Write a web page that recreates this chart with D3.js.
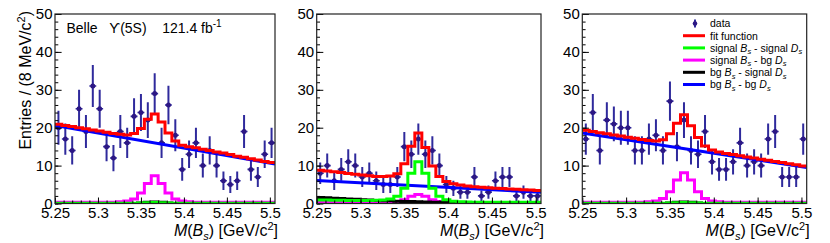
<!DOCTYPE html>
<html>
<head>
<meta charset="utf-8">
<script src="https://cdn.jsdelivr.net/npm/d3@7"></script>
<style>
  body { margin: 0; background: #fff; }
  text { font-family: "Liberation Sans", Arial, Helvetica, sans-serif; fill: #000; }
</style>
</head>
<body>
<div id="chart"></div>
<script>
// 32 bins of 8 MeV
var binEdges = [5.250, 5.258, 5.266, 5.274, 5.282, 5.290, 5.298, 5.306, 5.314, 5.322,
  5.330, 5.338, 5.346, 5.354, 5.362, 5.370, 5.378, 5.386, 5.394, 5.402,
  5.410, 5.418, 5.426, 5.434, 5.442, 5.450, 5.458, 5.466, 5.474, 5.482,
  5.490, 5.498, 5.506];
var xTicks = [5.25, 5.3, 5.35, 5.4, 5.45, 5.5];
var yTicks = [0, 10, 20, 30, 40, 50];

// panel 1
var data1 = [20, 17, 14, 25, 19, 31, 25, 15, 12, 19, 16, 23, 24, 22, 29, 16,
  26, 18, 9, 13, 16, 10, 14, 10, 6, 5, 6, 19, 9, 7, 13, 16];
var fit1 = [20.9, 20.6, 20.3, 20.0, 19.7, 19.4, 19.1, 18.8, 18.5, 18.3, 18.1, 18.5, 19.8, 22.2, 23.6, 21.5,
  18.6, 16.5, 15.4, 15.0, 14.7, 14.3, 14.0, 13.6, 13.3, 12.9, 12.5, 12.2, 11.8, 11.5, 11.1, 10.8];
var sigSig1 = [0.05, 0.05, 0.05, 0.05, 0.05, 0.05, 0.05, 0.05, 0.05, 0.05, 0.05, 0.08, 0.15, 0.2, 0.25, 0.2,
  0.15, 0.08, 0.05, 0.05, 0.05, 0.05, 0.05, 0.05, 0.05, 0.05, 0.05, 0.05, 0.05, 0.05, 0.05, 0.05];
var sigBg1 = [0.3, 0.3, 0.3, 0.3, 0.3, 0.3, 0.3, 0.3, 0.35, 0.45, 0.65, 1.2, 2.8, 5.3, 7.3, 5.3,
  2.8, 1.2, 0.65, 0.45, 0.35, 0.3, 0.3, 0.3, 0.3, 0.3, 0.3, 0.3, 0.3, 0.3, 0.3, 0.3];
var bgSig1 = [0, 0, 0, 0, 0, 0, 0, 0, 0, 0, 0, 0, 0.1, 0.3, 0.4, 0.3,
  0.1, 0, 0, 0, 0, 0, 0, 0, 0, 0, 0, 0, 0, 0, 0, 0];
var bgBg1 = [[5.25, 20.6], [5.506, 10.4]];

// panel 2
var data2 = [8, 10, 6, 9, 11, 10, 7, 8, 6, 5, 5, 7, 15, 13, 17, 13,
  14, 10, 5, 4, 3, 3, 7, 2, 3, 6, 7, 7, 2, 3, 2, 2];
var fit2 = [8.8, 8.6, 8.35, 8.15, 7.9, 7.7, 7.5, 7.3, 7.15, 7.15, 7.25, 7.85, 10.5, 15.1, 18.6, 14.8,
  9.9, 7.1, 5.8, 5.2, 4.85, 4.65, 4.45, 4.3, 4.15, 4.05, 3.95, 3.85, 3.75, 3.65, 3.55, 3.45];
var sigSig2 = [0.9, 0.9, 0.85, 0.85, 0.8, 0.8, 0.8, 0.8, 0.85, 0.95, 1.2, 1.9, 4.0, 8.0, 11.0, 8.0,
  4.0, 1.9, 1.0, 0.6, 0.45, 0.4, 0.35, 0.35, 0.3, 0.3, 0.3, 0.3, 0.3, 0.3, 0.3, 0.3];
var sigBg2 = [0.25, 0.25, 0.25, 0.25, 0.25, 0.25, 0.25, 0.25, 0.25, 0.25, 0.3, 0.4, 1.0, 1.9, 2.4, 1.9,
  1.0, 0.5, 0.3, 0.25, 0.2, 0.2, 0.2, 0.2, 0.2, 0.2, 0.2, 0.2, 0.2, 0.2, 0.2, 0.2];
var bgSig2 = [1.6, 1.5, 1.4, 1.3, 1.2, 1.1, 1.0, 0.9, 0.8, 0.75, 0.7, 0.6, 0.55, 0.5, 0.45, 0.4,
  0.35, 0.3, 0.25, 0.2, 0.15, 0.1, 0.05, 0, 0, 0, 0, 0, 0, 0, 0, 0];
var bgBg2 = [[5.25, 6.1], [5.506, 2.95]];

// panel 3
var data3 = [17, 24, 14, 22, 21, 20, 20, 14, 14, 17, 18, 14, 27, 15, 22, 14,
  13, 19, 11, 9, 9, 11, 16, 10, 11, 10, 17, 19, 7, 7, 7, 17];
var fit3 = [19.3, 19.0, 18.7, 18.4, 18.1, 17.8, 17.5, 17.2, 16.9, 16.6, 16.5, 16.8, 18.4, 21.2, 23.4, 20.5,
  17.4, 15.2, 14.1, 13.6, 13.2, 12.9, 12.6, 12.3, 12.0, 11.7, 11.4, 11.1, 10.8, 10.5, 10.2, 9.9];
var sigSig3 = [0.05, 0.05, 0.05, 0.05, 0.05, 0.05, 0.05, 0.05, 0.05, 0.05, 0.05, 0.08, 0.15, 0.2, 0.25, 0.2,
  0.15, 0.08, 0.05, 0.05, 0.05, 0.05, 0.05, 0.05, 0.05, 0.05, 0.05, 0.05, 0.05, 0.05, 0.05, 0.05];
var sigBg3 = [0.3, 0.3, 0.3, 0.3, 0.3, 0.3, 0.3, 0.3, 0.3, 0.45, 0.65, 1.3, 3.1, 6.2, 8.1, 6.2,
  3.1, 1.3, 0.65, 0.45, 0.3, 0.3, 0.3, 0.3, 0.3, 0.3, 0.3, 0.3, 0.3, 0.3, 0.3, 0.3];
var bgSig3 = [0, 0, 0, 0, 0, 0, 0, 0, 0, 0, 0, 0, 0.1, 0.3, 0.4, 0.3,
  0.1, 0, 0, 0, 0, 0, 0, 0, 0, 0, 0, 0, 0, 0, 0, 0];
var bgBg3 = [[5.25, 18.6], [5.506, 9.5]];

var colors = {
  data: "#2f2a9c",
  marker: "#2c1784",
  fit: "#ff0000",
  sigSig: "#00ff00",
  sigBg: "#ff00ff",
  bgSig: "#000000",
  bgBg: "#0000ff",
};

var W = 830, H = 243;
var yTop = 14, yBot = 203.5;
var tickFont = 15;
var titleFont = 16;

var panels = [
  { x0: 55, x1: 275, data: data1, fit: fit1, ss: sigSig1, sb: sigBg1, bs: bgSig1, bb: bgBg1 },
  { x0: 316.7, x1: 541, data: data2, fit: fit2, ss: sigSig2, sb: sigBg2, bs: bgSig2, bb: bgBg2 },
  { x0: 582.3, x1: 806.7, data: data3, fit: fit3, ss: sigSig3, sb: sigBg3, bs: bgSig3, bb: bgBg3 },
];

var svg = d3.select("#chart").append("svg")
  .attr("width", W)
  .attr("height", H)
  .attr("viewBox", `0 0 ${W} ${H}`);

// small helper for rich text (italic / sub / sup)
function rich(textSel, parts) {
  parts.forEach((p) => {
    textSel.append("tspan")
      .text(p.t)
      .attr("font-style", p.i ? "italic" : null)
      .attr("font-size", p.fs || null)
      .attr("dy", p.dy || null);
  });
}

panels.forEach((p, pi) => {
  var x = d3.scaleLinear().domain([binEdges[0], binEdges[binEdges.length - 1]]).range([p.x0, p.x1]);
  var y = d3.scaleLinear().domain([0, 50]).range([yBot, yTop]);

  var g = svg.append("g");

  g.append("clipPath").attr("id", "clip" + pi)
    .append("rect")
    .attr("x", p.x0).attr("y", yTop)
    .attr("width", p.x1 - p.x0).attr("height", yBot - yTop);

  var plot = g.append("g").attr("clip-path", `url(#clip${pi})`);

  // data points with sqrt(N) errors
  var pts = p.data.map((v, k) => ({ lo: binEdges[k], hi: binEdges[k + 1], v: v }));
  var dg = plot.append("g");
  dg.selectAll(".ey").data(pts).join("line")
    .attr("x1", (d) => x((d.lo + d.hi) / 2))
    .attr("x2", (d) => x((d.lo + d.hi) / 2))
    .attr("y1", (d) => y(d.v - Math.sqrt(d.v)))
    .attr("y2", (d) => y(d.v + Math.sqrt(d.v)))
    .attr("stroke", colors.data)
    .attr("stroke-width", 2);
  dg.selectAll(".ex").data(pts).join("line")
    .attr("x1", (d) => x(d.lo))
    .attr("x2", (d) => x(d.hi))
    .attr("y1", (d) => y(d.v))
    .attr("y2", (d) => y(d.v))
    .attr("stroke", colors.data)
    .attr("stroke-width", 1.6);
  dg.selectAll("circle").data(pts).join("circle")
    .attr("cx", (d) => x((d.lo + d.hi) / 2))
    .attr("cy", (d) => y(d.v))
    .attr("r", 2.5)
    .attr("fill", colors.marker);

  // histogram step helper
  var step = d3.line()
    .x((d) => x(d[0]))
    .y((d) => y(d[1]))
    .curve(d3.curveStepAfter);
  function histPts(vals) {
    var out = vals.map((v, k) => [binEdges[k], v]);
    out.push([binEdges[vals.length], vals[vals.length - 1]]);
    return out;
  }

  plot.append("path")
    .datum(p.bb)
    .attr("d", d3.line().x((d) => x(d[0])).y((d) => y(d[1])))
    .attr("fill", "none").attr("stroke", colors.bgBg).attr("stroke-width", 3);

  [[p.sb, colors.sigBg], [p.bs, colors.bgSig], [p.ss, colors.sigSig], [p.fit, colors.fit]].forEach((s) => {
    plot.append("path")
      .datum(histPts(s[0]))
      .attr("d", step)
      .attr("fill", "none")
      .attr("stroke", s[1])
      .attr("stroke-width", 3)
      .attr("stroke-linejoin", "miter");
  });

  // axes
  var xMinor = d3.range(5.25, 5.5061, 0.01);
  var yMinor = d3.range(0, 50.1, 2);

  g.append("g")
    .attr("transform", `translate(0,${yBot})`)
    .call(d3.axisBottom(x).tickValues(xMinor).tickSize(-3).tickFormat(""))
    .call((a) => a.select(".domain").remove());
  var xa = g.append("g")
    .attr("transform", `translate(0,${yBot})`)
    .call(d3.axisBottom(x).tickValues(xTicks).tickSize(-6).tickPadding(4).tickFormat((d) => String(d)));
  xa.select(".domain").remove();

  g.append("g")
    .attr("transform", `translate(${p.x0},0)`)
    .call(d3.axisLeft(y).tickValues(yMinor).tickSize(-3.3).tickFormat(""))
    .call((a) => a.select(".domain").remove());
  var ya = g.append("g")
    .attr("transform", `translate(${p.x0},0)`)
    .call(d3.axisLeft(y).tickValues(yTicks).tickSize(-6.6).tickPadding(2.5));
  ya.select(".domain").remove();

  g.selectAll(".tick line").attr("stroke", "#000");
  [xa, ya].forEach((a) => {
    a.attr("font-family", null).attr("font-size", null);
    a.selectAll("text").attr("font-size", tickFont).attr("fill", "#000");
  });

  // frame
  g.append("rect")
    .attr("x", p.x0).attr("y", yTop)
    .attr("width", p.x1 - p.x0).attr("height", yBot - yTop)
    .attr("fill", "none").attr("stroke", "#222").attr("stroke-width", 1.2);

  // x title
  var xt = g.append("text")
    .attr("x", p.x1 + 3).attr("y", 236)
    .attr("text-anchor", "end")
    .attr("font-size", titleFont);
  rich(xt, [
    { t: "M", i: true }, { t: "(" }, { t: "B", i: true },
    { t: "s", i: true, fs: 11, dy: 3.5 }, { t: ") [GeV/c", dy: -3.5 },
    { t: "2", fs: 11, dy: -6.5 }, { t: "]", dy: 6.5 },
  ]);
});

// y title on first panel
var yt = svg.append("text")
  .attr("transform", "translate(31,11) rotate(-90)")
  .attr("text-anchor", "end")
  .attr("font-size", titleFont);
rich(yt, [{ t: "Entries / (8 MeV/c" }, { t: "2", fs: 11, dy: -6.5 }, { t: ")", dy: 6.5 }]);

// Belle label
var lab = svg.append("text").attr("x", 66.5).attr("y", 32.5).attr("font-size", 14)
  .attr("xml:space", "preserve");
rich(lab, [{ t: "Belle   " }, { t: "\u03D2" }, { t: "(5S)    121.4 fb" }, { t: "-1", fs: 10, dy: -6 }]);

// legend in third panel
var legendRows = [
  { key: "data", parts: [{ t: "data" }] },
  { key: "fit", parts: [{ t: "fit function" }] },
  { key: "sigSig", parts: [{ t: "signal " }, { t: "B", i: true }, { t: "s", i: true, fs: 7.5, dy: 2.5 }, { t: " - signal ", dy: -2.5 }, { t: "D", i: true }, { t: "s", i: true, fs: 7.5, dy: 2.5 }] },
  { key: "sigBg", parts: [{ t: "signal " }, { t: "B", i: true }, { t: "s", i: true, fs: 7.5, dy: 2.5 }, { t: " - bg ", dy: -2.5 }, { t: "D", i: true }, { t: "s", i: true, fs: 7.5, dy: 2.5 }] },
  { key: "bgSig", parts: [{ t: "bg " }, { t: "B", i: true }, { t: "s", i: true, fs: 7.5, dy: 2.5 }, { t: " - signal ", dy: -2.5 }, { t: "D", i: true }, { t: "s", i: true, fs: 7.5, dy: 2.5 }] },
  { key: "bgBg", parts: [{ t: "bg " }, { t: "B", i: true }, { t: "s", i: true, fs: 7.5, dy: 2.5 }, { t: " - bg ", dy: -2.5 }, { t: "D", i: true }, { t: "s", i: true, fs: 7.5, dy: 2.5 }] },
];
var legendY = d3.scalePoint().domain(legendRows.map((d) => d.key)).range([23.5, 84.5]);
var lg = svg.append("g");
legendRows.forEach((r) => {
  var yy = legendY(r.key);
  if (r.key === "data") {
    lg.append("line").attr("x1", 695).attr("x2", 695).attr("y1", yy - 4).attr("y2", yy + 4)
      .attr("stroke", colors.data).attr("stroke-width", 2);
    lg.append("circle").attr("cx", 695).attr("cy", yy).attr("r", 2.3).attr("fill", colors.marker);
  } else {
    lg.append("line").attr("x1", 683).attr("x2", 705).attr("y1", yy).attr("y2", yy)
      .attr("stroke", colors[r.key]).attr("stroke-width", 3);
  }
  var t = lg.append("text").attr("x", 710).attr("y", yy + 3.8).attr("font-size", 10.5);
  rich(t, r.parts);
});
</script>
</body>
</html>
